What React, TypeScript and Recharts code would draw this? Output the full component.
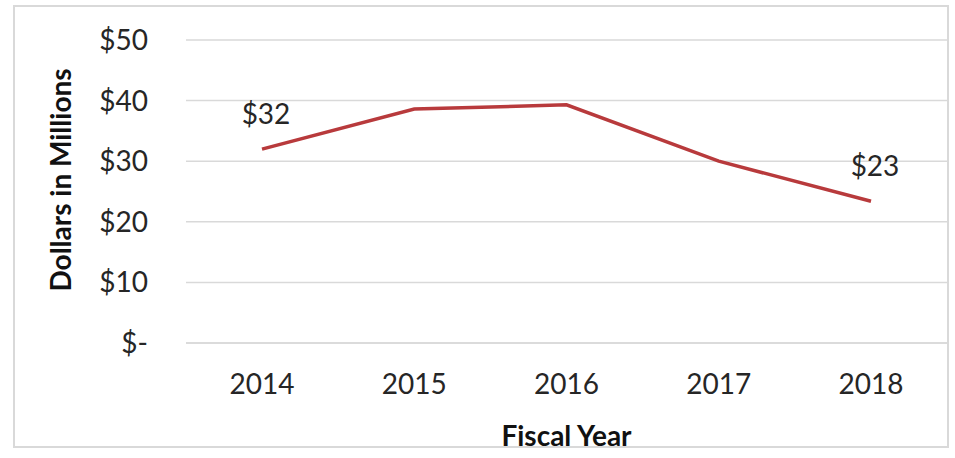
import React from "react";
import { LineChart, Line, XAxis, YAxis, CartesianGrid, LabelList, Label } from "recharts";

const years = ["2014", "2015", "2016", "2017", "2018"];
const dollars = [32, 38.6, 39.3, 30.0, 23.4];
const pointLabels = ["$32", "", "", "", "$23"];
const yTicks = [0, 10, 20, 30, 40, 50];

const data = years.map((y, i) => ({ year: y, value: dollars[i], label: pointLabels[i] }));

const FONT = "Lato, Calibri, 'Open Sans', sans-serif";
const TEXT = "#262626";
const FS = 28;

const fmtY = (v: number) => (v === 0 ? "$-" : `$${v}`);

export default function App() {
  return (
    <div style={{ position: "absolute", left: 0, top: 0, width: 955, height: 458, background: "#fff" }}>
      <div
        style={{
          position: "absolute",
          left: 13,
          top: 5,
          width: 936,
          height: 443,
          border: "2px solid #d9d9d9",
          boxSizing: "border-box",
        }}
      />
      <div style={{ position: "absolute", left: 0, top: 0 }}>
        <LineChart
          width={955}
          height={458}
          data={data}
          margin={{ top: 40, right: 8, bottom: 0, left: 0 }}
          style={{ fontFamily: FONT }}
        >
          <CartesianGrid vertical={false} stroke="#d9d9d9" strokeWidth={1.5} />
          <XAxis
            dataKey="year"
            padding={{ left: 76, right: 76 }}
            axisLine={{ stroke: "#d9d9d9", strokeWidth: 1.5 }}
            tickLine={false}
            tickSize={0}
            tickMargin={31}
            tick={{ fill: TEXT, fontSize: FS, fontFamily: FONT }}
            height={115}
          >
            <Label
              content={({ viewBox }: any) => (
                <text
                  x={viewBox.x + viewBox.width / 2}
                  y={435}
                  textAnchor="middle"
                  dominantBaseline="central"
                  fill="#111"
                  fontSize={FS}
                  fontWeight="bold"
                  fontFamily={FONT}
                >
                  Fiscal Year
                </text>
              )}
            />
          </XAxis>
          <YAxis
            domain={[0, 50]}
            ticks={yTicks}
            tickFormatter={fmtY}
            axisLine={false}
            tickLine={false}
            tickSize={0}
            tickMargin={38}
            width={186}
            tick={{ fill: TEXT, fontSize: FS, fontFamily: FONT }}
          >
            <Label
              content={() => {
                const cx = 60;
                const cy = 180;
                return (
                  <text
                    x={cx}
                    y={cy}
                    transform={`rotate(-90 ${cx} ${cy})`}
                    textAnchor="middle"
                    dominantBaseline="central"
                    fill="#111"
                    fontSize={FS}
                    fontWeight="bold"
                    fontFamily={FONT}
                  >
                    Dollars in Millions
                  </text>
                );
              }}
            />
          </YAxis>
          <Line
            type="linear"
            dataKey="value"
            stroke="#b83a3c"
            strokeWidth={3.5}
            dot={false}
            activeDot={false}
            isAnimationActive={false}
          >
            <LabelList
              dataKey="label"
              content={(props: any) => {
                const { x, y, value } = props;
                if (!value) return null;
                return (
                  <text
                    x={x + 4}
                    y={y - 36}
                    textAnchor="middle"
                    dominantBaseline="central"
                    fill={TEXT}
                    fontSize={FS}
                    fontFamily={FONT}
                  >
                    {value}
                  </text>
                );
              }}
            />
          </Line>
        </LineChart>
      </div>
    </div>
  );
}
